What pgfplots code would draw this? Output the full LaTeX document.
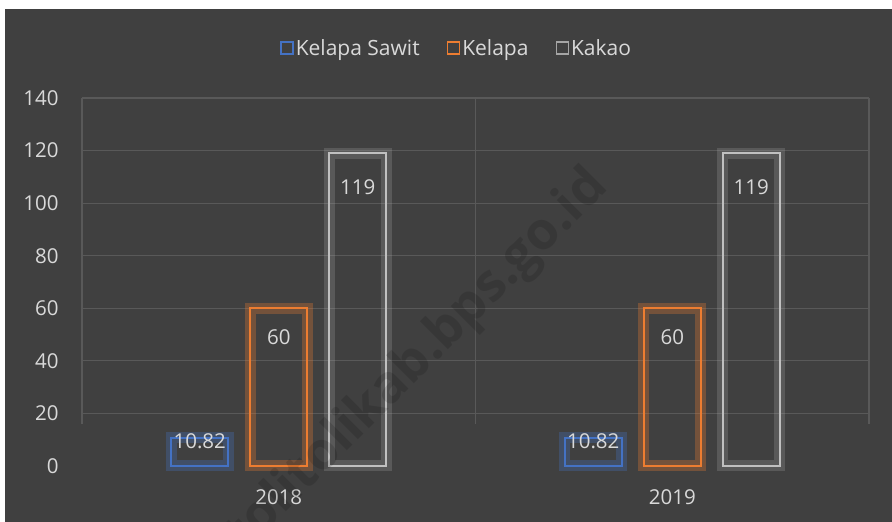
\documentclass[border=0pt]{standalone}
\usepackage{pgfplots}
\pgfplotsset{compat=1.18}
\usepackage{fontspec}
\setmainfont{Open Sans}
\definecolor{bgc}{HTML}{404040}
\definecolor{gridc}{HTML}{595959}
\definecolor{textc}{HTML}{D9D9D9}
\definecolor{cblue}{HTML}{4472C4}
\definecolor{corange}{HTML}{ED7D31}
\definecolor{cgrey}{HTML}{A5A5A5}
\pgfplotstableread{
x sawit kelapa kakao
0 10.82 60 119
1 10.82 60 119
}\datatab
\begin{document}
\begin{tikzpicture}[x=1bp,y=1bp]
\fill[white] (0,0) rectangle (892,522);
\fill[bgc] (5,0) rectangle (892,513);
\begin{axis}[
  at={(82bp,56bp)}, anchor=south west,
  scale only axis, width=787bp, height=368bp,
  xmin=-0.5, xmax=1.5, ymin=0, ymax=140,
  ytick={0,20,...,140}, xtick={0,1}, xticklabels={2018,2019},
  axis line style={draw=none}, major tick length=0pt,
  clip=false,
  ybar, bar width=57bp,
  /pgf/number format/assume math mode=true,
  tick label style={text=textc, font=\fontsize{20.5bp}{24bp}\selectfont},
  yticklabel style={anchor=east, xshift=-20bp},
  xticklabel style={anchor=north, yshift=-20bp},
  legend style={draw=none, fill=none, text=textc, font=\fontsize{21bp}{24bp}\selectfont,
    at={(0.476,1.0)}, anchor=south, yshift=37bp, legend columns=-1,
    /tikz/every even column/.append style={column sep=25bp},
    /tikz/every odd column/.append style={column sep=0bp}},
  every node near coord/.append style={text=textc, font=\fontsize{20.5bp}{24bp}\selectfont, anchor=center},
  nodes near coords={\pgfmathprintnumber[fixed,precision=2]{\pgfplotspointmeta}},
]
\pgfplotsinvokeforeach{20,40,...,140}{
  \draw[gridc, line width=1.2bp] (axis cs:-0.5,#1) -- (axis cs:1.5,#1);
}
\pgfplotsinvokeforeach{-0.5,0.5,1.5}{
  \draw[gridc, line width=1.2bp] (axis cs:#1,16) -- (axis cs:#1,140);
}
\addlegendimage{legend image code/.code={\draw[cblue, line width=1.6bp] (0bp,-6bp) rectangle (12bp,6bp);}}
\addlegendentry{Kelapa Sawit}
\addlegendimage{legend image code/.code={\draw[corange, line width=1.6bp] (0bp,-6bp) rectangle (12bp,6bp);}}
\addlegendentry{Kelapa}
\addlegendimage{legend image code/.code={\draw[cgrey, line width=1.6bp] (0bp,-6bp) rectangle (12bp,6bp);}}
\addlegendentry{Kakao}
% glow
\addplot[forget plot, bar shift=-79bp, draw=cblue, draw opacity=0.3, line width=11bp, fill=none, nodes near coords={}] table[x=x,y=sawit]{\datatab};
\addplot[forget plot, bar shift=0bp, draw=corange, draw opacity=0.3, line width=11bp, fill=none, nodes near coords={}] table[x=x,y=kelapa]{\datatab};
\addplot[forget plot, bar shift=79bp, draw=cgrey, draw opacity=0.25, line width=11bp, fill=none, nodes near coords={}] table[x=x,y=kakao]{\datatab};
% outlines
\addplot[forget plot, bar shift=-79bp, draw=cblue, line width=2bp, fill=none,
  every node near coord/.append style={yshift=-4bp}] table[x=x,y=sawit]{\datatab};
\addplot[forget plot, bar shift=0bp, draw=corange, line width=2bp, fill=none,
  every node near coord/.append style={yshift=-29bp}] table[x=x,y=kelapa]{\datatab};
\addplot[forget plot, bar shift=79bp, draw=cgrey!70!white, line width=2bp, fill=none,
  every node near coord/.append style={yshift=-34bp}] table[x=x,y=kakao]{\datatab};
\end{axis}
\node[rotate=45, anchor=base east, text=black, opacity=0.13, font=\bfseries\fontsize{52bp}{52bp}\selectfont] at (612,336) {tolitolikab.bps.go.id};
\pgfresetboundingbox
\useasboundingbox (0,0) rectangle (892,522);
\end{tikzpicture}
\end{document}
